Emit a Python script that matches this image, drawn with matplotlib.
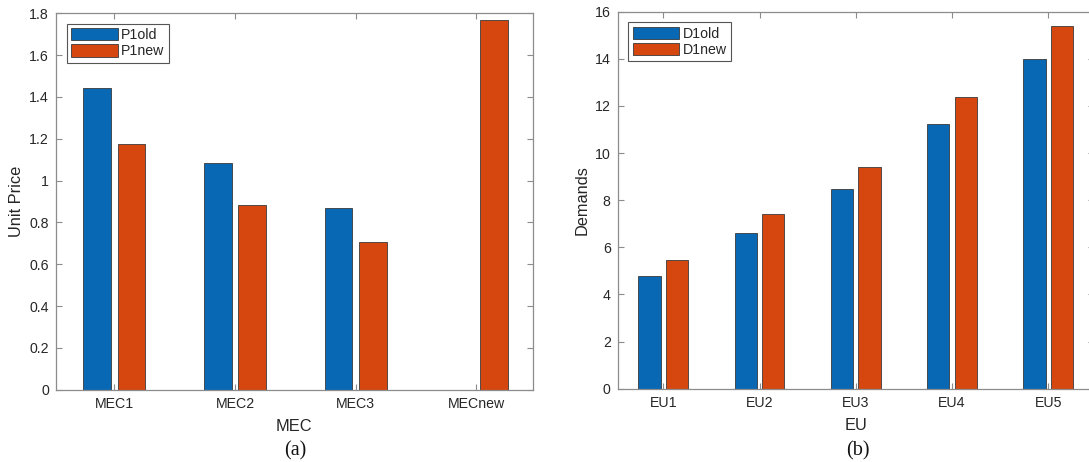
import numpy as np
import matplotlib.pyplot as plt

# Unit prices per MEC before/after the new MEC joins
mec_labels = ['MEC1', 'MEC2', 'MEC3', 'MECnew']
p1_old = [1.445, 1.085, 0.867, 0.0]
p1_new = [1.177, 0.884, 0.707, 1.768]

# Demands per end user
eu_labels = ['EU1', 'EU2', 'EU3', 'EU4', 'EU5']
d1_old = [4.78, 6.60, 8.47, 11.22, 14.01]
d1_new = [5.45, 7.42, 9.42, 12.39, 15.38]

blue = '#0868b4'
orange = '#d5470f'
axis_gray = '#8c8c8c'
text_gray = '#262626'

plt.rcParams['font.family'] = ['Liberation Sans', 'DejaVu Sans']

fig = plt.figure(figsize=(10.89, 4.62), dpi=100)
ax1 = fig.add_axes([0.0514, 0.1565, 0.4378, 0.8147])
ax2 = fig.add_axes([0.5672, 0.1587, 0.4373, 0.8160])

width = 0.23
offset = 0.143


def style_axes(ax):
    for s in ax.spines.values():
        s.set_color(axis_gray)
        s.set_linewidth(0.9)
    ax.tick_params(direction='in', length=4, width=0.8, color=axis_gray,
                   labelcolor=text_gray, labelsize=10.2,
                   top=True, right=True, pad=5)


def grouped(ax, labels, old, new, names):
    x = np.arange(1, len(labels) + 1)
    ax.bar(x - offset, old, width, color=blue, edgecolor='#3a3a3a',
           linewidth=0.6, label=names[0])
    ax.bar(x + offset, new, width, color=orange, edgecolor='#3a3a3a',
           linewidth=0.6, label=names[1])
    ax.set_xticks(x)
    ax.set_xticklabels(labels)
    leg = ax.legend(loc='upper left', fontsize=10.2, handlelength=3.3,
                    handleheight=0.95, handletextpad=0.25, labelspacing=0.15,
                    borderpad=0.3, borderaxespad=0.75, fancybox=False,
                    framealpha=1, edgecolor='#555555')
    leg.get_frame().set_linewidth(0.8)
    for t in leg.get_texts():
        t.set_color(text_gray)
    style_axes(ax)


grouped(ax1, mec_labels, p1_old, p1_new, ['P1old', 'P1new'])
ax1.set_xlim(0.517, 4.466)
ax1.set_ylim(0, 1.8)
ax1.set_yticks(np.arange(0, 1.81, 0.2))
ax1.set_yticklabels(['0', '0.2', '0.4', '0.6', '0.8', '1', '1.2', '1.4', '1.6', '1.8'])
ax1.set_xlabel('MEC', fontsize=11.8, color=text_gray, labelpad=6)
ax1.set_ylabel('Unit Price', fontsize=11.8, color=text_gray, labelpad=4)

grouped(ax2, eu_labels, d1_old, d1_new, ['D1old', 'D1new'])
ax2.set_xlim(0.526, 5.474)
ax2.set_ylim(0, 16)
ax2.set_yticks(np.arange(0, 17, 2))
ax2.set_xlabel('EU', fontsize=11.8, color=text_gray, labelpad=6)
ax2.set_ylabel('Demands', fontsize=11.8, color=text_gray, labelpad=4)

fig.text(0.271, 0.024, '(a)', ha='center', va='center', fontsize=14.5,
         family=['Liberation Serif', 'DejaVu Serif'], color='#111111')
fig.text(0.788, 0.024, '(b)', ha='center', va='center', fontsize=14.5,
         family=['Liberation Serif', 'DejaVu Serif'], color='#111111')

fig.savefig('out.png', dpi=100)
